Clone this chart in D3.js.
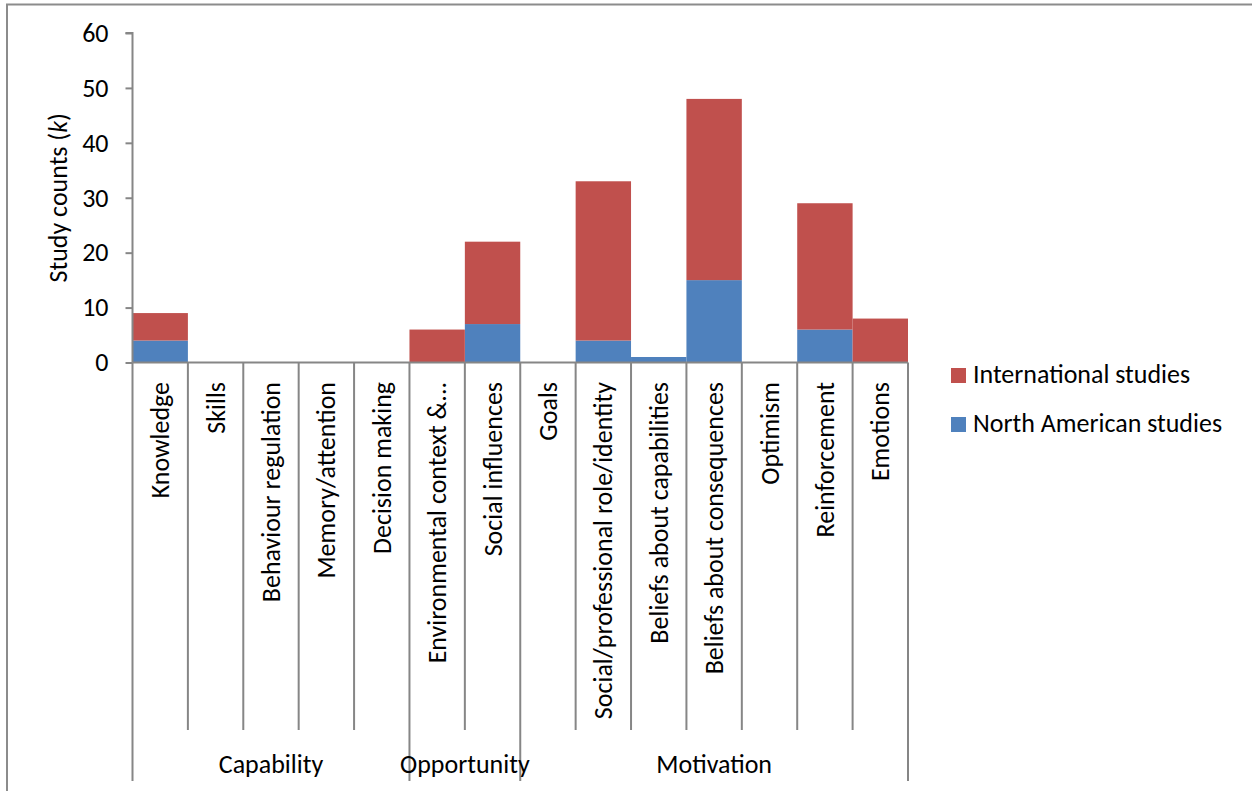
<!DOCTYPE html>
<html>
<head>
<meta charset="utf-8">
<script src="https://cdn.jsdelivr.net/npm/d3@7"></script>
<style>
  body { margin: 0; background: #fff; }
  svg text { font-family: Carlito, Lato, sans-serif; fill: #000; }
</style>
</head>
<body>
<div id="chart"></div>
<script>
const categories = [
  "Knowledge", "Skills", "Behaviour regulation", "Memory/attention",
  "Decision making", "Environmental context &...", "Social influences", "Goals",
  "Social/professional role/identity", "Beliefs about capabilities",
  "Beliefs about consequences", "Optimism", "Reinforcement", "Emotions"
];
const northAmerican = [4, 0, 0, 0, 0, 0, 7, 0, 4, 1, 15, 0, 6, 0];
const international = [5, 0, 0, 0, 0, 6, 15, 0, 29, 0, 33, 0, 23, 8];
const seriesNames = ["North American studies", "International studies"];
const seriesColors = ["#4F81BD", "#C0504D"];
const groups = [
  { name: "Capability", from: 0, to: 4 },
  { name: "Opportunity", from: 5, to: 6 },
  { name: "Motivation", from: 7, to: 13 }
];
const yTicks = [0, 10, 20, 30, 40, 50, 60];

const WIDTH = 1252;
const HEIGHT = 791;
const AXIS = "#868686";

const svg = d3.select("#chart").append("svg")
  .attr("width", WIDTH)
  .attr("height", HEIGHT);

// pick a font size so the fallback font takes about the same room as the original
const probe = svg.append("text").attr("font-size", 100);
const fit = (s, target) => { probe.text(s); return 100 * target / probe.node().getComputedTextLength(); };
const FONT = (fit("Social/professional role/identity", 330) + fit("International studies", 222)) / 2;
probe.remove();

// outer chart border
svg.append("path")
  .attr("d", `M7,${HEIGHT} V4.5 H${WIDTH}`)
  .attr("fill", "none")
  .attr("stroke", "#8c8c8c")
  .attr("stroke-width", 2);

const x = d3.scaleBand().domain(categories).range([132.5, 908]).padding(0);
const y = d3.scaleLinear().domain([0, 60]).range([362.5, 33]);

const rows = categories.map((c, i) => ({
  cat: c,
  north: northAmerican[i],
  intl: international[i]
}));
const stack = d3.stack().keys(["north", "intl"])(rows);

svg.append("g")
  .selectAll("g")
  .data(stack)
  .join("g")
  .attr("fill", (d, i) => seriesColors[i])
  .selectAll("rect")
  .data(d => d)
  .join("rect")
  .attr("x", d => x(d.data.cat))
  .attr("width", x.bandwidth())
  .attr("y", d => y(d[1]))
  .attr("height", d => y(d[0]) - y(d[1]));

// y axis
const yAxis = svg.append("g")
  .attr("transform", "translate(132.5,0)")
  .call(d3.axisLeft(y).tickValues(yTicks).tickSize(7).tickPadding(17));
yAxis.select(".domain").attr("stroke", AXIS).attr("stroke-width", 2)
  .attr("d", `M-7,${y(60)}H0V${y(0)}`);
yAxis.selectAll(".tick line").attr("stroke", AXIS).attr("stroke-width", 2);
yAxis.selectAll(".tick text")
  .attr("font-size", FONT)
  .attr("font-family", "Carlito, Lato, sans-serif")
  .attr("fill", "#000");

// y axis title
const yTitle = svg.append("text")
  .attr("transform", `translate(67,${(y(0) + y(60)) / 2}) rotate(-90)`)
  .attr("text-anchor", "middle")
  .attr("font-size", FONT);
yTitle.append("tspan").text("Study counts (");
yTitle.append("tspan").attr("font-style", "italic").text("k");
yTitle.append("tspan").text(")");

// x axis line and category separators
const groupEdges = new Set();
groups.forEach(g => { groupEdges.add(g.from); groupEdges.add(g.to + 1); });
const edges = d3.range(categories.length + 1);
const edgeX = i => i < categories.length ? x(categories[i]) : x.range()[1];

svg.append("line")
  .attr("x1", 132.5).attr("x2", 908)
  .attr("y1", y(0)).attr("y2", y(0))
  .attr("stroke", AXIS).attr("stroke-width", 2);

svg.append("g")
  .selectAll("line")
  .data(edges)
  .join("line")
  .attr("x1", edgeX).attr("x2", edgeX)
  .attr("y1", y(0))
  .attr("y2", i => groupEdges.has(i) ? 781 : 730)
  .attr("stroke", AXIS)
  .attr("stroke-width", 2);

// rotated category labels
svg.append("g")
  .selectAll("text")
  .data(categories)
  .join("text")
  .attr("transform", d => `translate(${x(d) + x.bandwidth() / 2 + 9},382) rotate(-90)`)
  .attr("text-anchor", "end")
  .attr("font-size", FONT)
  .text(d => d);

// group labels
svg.append("g")
  .selectAll("text")
  .data(groups)
  .join("text")
  .attr("x", g => (edgeX(g.from) + edgeX(g.to + 1)) / 2)
  .attr("y", 773)
  .attr("text-anchor", "middle")
  .attr("font-size", FONT)
  .text(g => g.name);

// legend (international on top)
const legendItems = [1, 0];
const legend = svg.append("g")
  .selectAll("g")
  .data(legendItems)
  .join("g")
  .attr("transform", (d, i) => `translate(951,${368 + i * 49})`);
legend.append("rect")
  .attr("width", 15).attr("height", 15)
  .attr("fill", d => seriesColors[d]);
legend.append("text")
  .attr("x", 22).attr("y", 15)
  .attr("font-size", FONT)
  .text(d => seriesNames[d]);
</script>
</body>
</html>
